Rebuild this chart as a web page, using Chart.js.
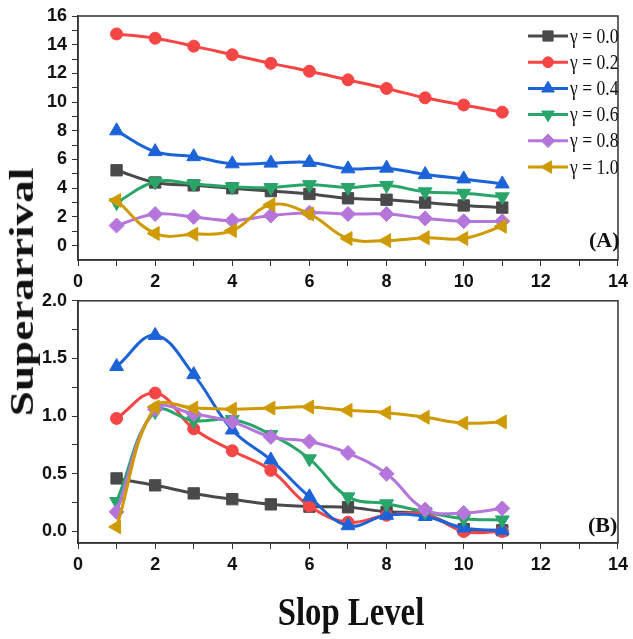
<!DOCTYPE html>
<html>
<head>
<meta charset="utf-8">
<script src="https://cdn.jsdelivr.net/npm/chart.js@4.4.1/dist/chart.umd.min.js"></script>
<style>
  body { margin: 0; background: #fff; width: 633px; height: 639px; overflow: hidden; position: relative; }
  .box { position: absolute; left: 0; width: 633px; }
  #boxA { top: 0; height: 295px; }
  #boxB { top: 285px; height: 354px; }
  .ttl { position: absolute; font-family: "Liberation Serif", "Times New Roman", serif; font-weight: bold;
         white-space: nowrap; color: #111; line-height: 1; }
  #yTitle { left: 22px; top: 292px; font-size: 40px; transform: translate(-50%, -50%) rotate(-90deg) scale(1.13, 0.83); }
  #xTitle { left: 351px; top: 611px; font-size: 39px; transform: translate(-50%, -50%) scale(0.84, 1); }
  #tagA { left: 589px; top: 229px; font-size: 22px; }
  #tagB { left: 588px; top: 514px; font-size: 22px; }
</style>
</head>
<body>
<div class="box" id="boxA"><canvas id="chartA" width="633" height="295"></canvas></div>
<div class="box" id="boxB"><canvas id="chartB" width="633" height="354"></canvas></div>
<div class="ttl" id="yTitle">Superarrival</div>
<div class="ttl" id="xTitle">Slop Level</div>
<div class="ttl" id="tagA">(A)</div>
<div class="ttl" id="tagB">(B)</div>
<script>
const slopLevels = [1, 2, 3, 4, 5, 6, 7, 8, 9, 10, 11];
const gammaLabels = ['γ = 0.0', 'γ = 0.2', 'γ = 0.4', 'γ = 0.6', 'γ = 0.8', 'γ = 1.0'];

// panel (A)
const g00A = [5.25, 4.4, 4.2, 4.0, 3.8, 3.6, 3.3, 3.2, 3.0, 2.8, 2.65];
const g02A = [14.75, 14.45, 13.9, 13.3, 12.7, 12.15, 11.55, 10.95, 10.3, 9.8, 9.3];
const g04A = [8.0, 6.55, 6.2, 5.7, 5.75, 5.8, 5.35, 5.4, 4.95, 4.65, 4.3];
const g06A = [3.0, 4.45, 4.3, 4.1, 4.05, 4.25, 4.05, 4.2, 3.75, 3.65, 3.4];
const g08A = [1.4, 2.2, 2.0, 1.75, 2.1, 2.3, 2.2, 2.2, 1.9, 1.7, 1.7];
const g10A = [3.15, 0.85, 0.8, 1.05, 2.85, 2.2, 0.5, 0.35, 0.55, 0.5, 1.35];

// panel (B)
const g00B = [0.46, 0.40, 0.33, 0.28, 0.235, 0.215, 0.21, 0.17, 0.15, 0.02, 0.01];
const g02B = [0.98, 1.20, 0.89, 0.70, 0.53, 0.22, 0.08, 0.14, 0.15, 0.0, 0.0];
const g04B = [1.43, 1.70, 1.36, 0.88, 0.62, 0.30, 0.05, 0.14, 0.13, 0.03, 0.01];
const g06B = [0.26, 1.04, 0.96, 0.97, 0.84, 0.63, 0.30, 0.24, 0.17, 0.11, 0.10];
const g08B = [0.17, 1.06, 1.02, 0.95, 0.82, 0.78, 0.68, 0.50, 0.19, 0.16, 0.20];
const g10B = [0.04, 1.08, 1.07, 1.06, 1.07, 1.08, 1.05, 1.03, 0.99, 0.94, 0.95];

// axis ranges and tick positions (labels only on every other tick)
const xRange = [0, 14];
const xTickVals = [0, 1, 2, 3, 4, 5, 6, 7, 8, 9, 10, 11, 12, 13, 14];
const yRangeA = [-1, 16];
const yTickValsA = [0, 1, 2, 3, 4, 5, 6, 7, 8, 9, 10, 11, 12, 13, 14, 15, 16];
const yRangeB = [-0.1, 2.0];
const yTickValsB = [0, 0.25, 0.5, 0.75, 1.0, 1.25, 1.5, 1.75, 2.0];

const colors = ['#4a4a4a', '#f54545', '#1c63d8', '#2aa56a', '#b576dc', '#cf9a00'];
const styles = [
  { pointStyle: 'rect', rotation: 0, radius: 8 },
  { pointStyle: 'circle', rotation: 0, radius: 6 },
  { pointStyle: 'triangle', rotation: 0, radius: 8 },
  { pointStyle: 'triangle', rotation: 180, radius: 8 },
  { pointStyle: 'rectRot', rotation: 0, radius: 7.5 },
  { pointStyle: 'triangle', rotation: -90, radius: 8 }
];

const tickFont = { family: '"Liberation Sans Narrow", "Liberation Sans", Arial, sans-serif', size: 18, weight: 'bold' };

function makeDatasets(series) {
  return series.map((vals, i) => ({
    label: gammaLabels[i],
    data: slopLevels.map((x, k) => ({ x: x, y: vals[k] })),
    borderColor: colors[i],
    backgroundColor: colors[i],
    borderWidth: 3,
    tension: 0.4,
    pointStyle: styles[i].pointStyle,
    pointRotation: styles[i].rotation,
    pointRadius: styles[i].radius,
    pointBorderWidth: 1,
    order: 5 - i
  }));
}

const framePlugin = {
  id: 'frame',
  afterDatasetsDraw(chart) {
    const a = chart.chartArea, ctx = chart.ctx;
    ctx.save();
    ctx.strokeStyle = '#333';
    ctx.lineWidth = 1.5;
    ctx.strokeRect(a.left, a.top, a.right - a.left, a.bottom - a.top);
    ctx.restore();
  }
};

const legendPlugin = {
  id: 'lineLegend',
  afterDraw(chart) {
    const ctx = chart.ctx;
    chart.data.datasets.forEach((ds, i) => {
      const y = 36 + i * 26.2;
      ctx.save();
      ctx.strokeStyle = ds.borderColor;
      ctx.lineWidth = 3;
      ctx.beginPath();
      ctx.moveTo(528, y);
      ctx.lineTo(568, y);
      ctx.stroke();
      ctx.fillStyle = ds.backgroundColor;
      ctx.lineWidth = 1;
      Chart.helpers.drawPoint(ctx, {
        pointStyle: ds.pointStyle, rotation: ds.pointRotation,
        radius: ds.pointRadius * 0.9, borderWidth: 1
      }, 548, y);
      ctx.translate(570, y);
      ctx.scale(0.88, 1.05);
      ctx.font = '20px "Liberation Serif", "Times New Roman", serif';
      ctx.textBaseline = 'middle';
      ctx.fillStyle = '#111';
      ctx.fillText(ds.label, 0, 1);
      ctx.restore();
    });
  }
};

function makeChart(id, series, yRange, yTickVals, yFmt, pad, xHeight, withLegend) {
  return new Chart(document.getElementById(id), {
    type: 'line',
    data: { datasets: makeDatasets(series) },
    options: {
      responsive: false,
      animation: false,
      layout: { padding: pad },
      plugins: { legend: { display: false }, tooltip: { enabled: false } },
      scales: {
        x: {
          type: 'linear', min: xRange[0], max: xRange[1],
          afterBuildTicks: s => { s.ticks = xTickVals.map(v => ({ value: v })); },
          afterFit: s => { s.height = xHeight; },
          grid: { drawOnChartArea: false, tickLength: 6, color: '#333', tickWidth: 1 },
          border: { display: true, color: '#333', width: 1.5 },
          ticks: {
            autoSkip: false, maxRotation: 0, padding: 5,
            color: '#111', font: tickFont,
            callback: v => (v % 2 === 0 ? String(v) : '')
          }
        },
        y: {
          type: 'linear', min: yRange[0], max: yRange[1],
          afterBuildTicks: s => { s.ticks = yTickVals.map(v => ({ value: v })); },
          afterFit: s => { s.width = 78; },
          grid: { drawOnChartArea: false, tickLength: 6, color: '#333', tickWidth: 1 },
          border: { display: true, color: '#333', width: 1.5 },
          ticks: {
            autoSkip: false, padding: 5,
            color: '#111', font: tickFont, callback: yFmt
          }
        }
      }
    },
    plugins: withLegend ? [framePlugin, legendPlugin] : [framePlugin]
  });
}

makeChart('chartA', [g00A, g02A, g04A, g06A, g08A, g10A], yRangeA, yTickValsA,
  v => (v % 2 === 0 ? String(v) : ''),
  { left: 0, right: 10, top: 16, bottom: 0 }, 35, true);

makeChart('chartB', [g00B, g02B, g04B, g06B, g08B, g10B], yRangeB, yTickValsB,
  v => {
    const h = v * 2;
    return Math.abs(h - Math.round(h)) < 1e-6 ? v.toFixed(1) : '';
  },
  { left: 0, right: 10, top: 15, bottom: 0 }, 96, false);
</script>
</body>
</html>
